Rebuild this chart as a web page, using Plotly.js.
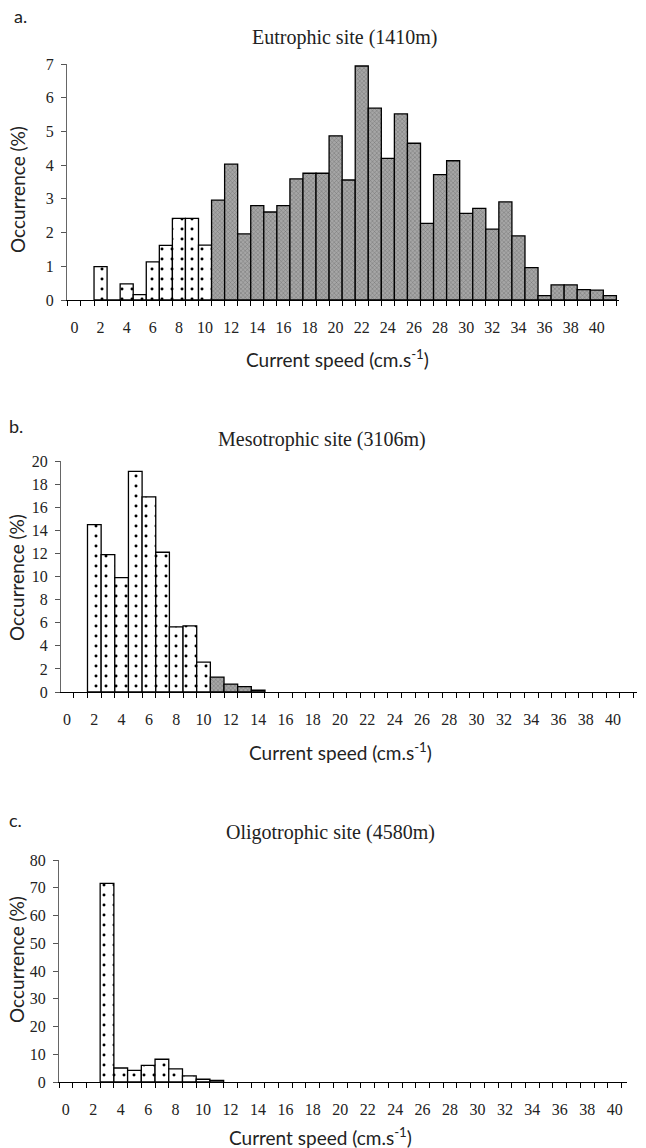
<!DOCTYPE html>
<html>
<head>
<meta charset="utf-8">
<script src="https://cdn.plot.ly/plotly-3.0.1.min.js"></script>
<style>html,body{margin:0;padding:0;background:#fff;}#chart{width:646px;height:1148px;}</style>
</head>
<body>
<div id="chart"></div>
<script>
// ---- Data (current speed in cm.s-1, occurrence in %) ----
const xTickVals = [0,2,4,6,8,10,12,14,16,18,20,22,24,26,28,30,32,34,36,38,40];

// a. Eutrophic site (1410m)
const aDotSpeed = [2,3,4,5,6,7,8,9,10];
const aDotOcc   = [0.99,0,0.48,0.16,1.13,1.62,2.42,2.42,1.63];
const aGraySpeed = [11,12,13,14,15,16,17,18,19,20,21,22,23,24,25,26,27,28,29,30,31,32,33,34,35,36,37,38,39,40,41];
const aGrayOcc   = [2.96,4.03,1.96,2.80,2.61,2.80,3.59,3.76,3.76,4.87,3.56,6.94,5.69,4.20,5.52,4.65,2.27,3.72,4.13,2.57,2.72,2.10,2.91,1.90,0.96,0.13,0.45,0.45,0.31,0.29,0.13];

// b. Mesotrophic site (3106m)
const bDotSpeed = [2,3,4,5,6,7,8,9,10];
const bDotOcc   = [14.5,11.9,9.9,19.1,16.9,12.1,5.64,5.73,2.59];
const bGraySpeed = [11,12,13,14];
const bGrayOcc   = [1.29,0.69,0.46,0.15];

// c. Oligotrophic site (4580m)
const cDotSpeed = [3,4,5,6,7,8,9,10];
const cDotOcc   = [71.6,5.05,4.2,6.0,8.2,4.7,2.2,1.0];
const cPlainSpeed = [11];
const cPlainOcc   = [0.6];

const W = 646, H = 1148;
const px = v => v / W;
const py = v => 1 - v / H;

const dotPattern = {shape: '.', bgcolor: '#ffffff', fgcolor: '#000000', size: 10, solidity: 0.07, fillmode: 'replace'};
const grayPattern = {shape: 'x', bgcolor: '#a6a6a6', fgcolor: '#6a6a6a', size: 3, solidity: 0.25, fillmode: 'replace'};
const outline = {color: '#000000', width: 1.3};

function bar(x, y, xa, ya, pattern, color) {
  return {type: 'bar', x: x, y: y, xaxis: xa, yaxis: ya, width: 1,
    marker: {color: color, line: outline, pattern: pattern}, hoverinfo: 'x+y', showlegend: false};
}

const data = [
  bar(aDotSpeed, aDotOcc, 'x', 'y', dotPattern, '#ffffff'),
  bar(aGraySpeed, aGrayOcc, 'x', 'y', grayPattern, '#8f8f8f'),
  bar(bDotSpeed, bDotOcc, 'x2', 'y2', dotPattern, '#ffffff'),
  bar(bGraySpeed, bGrayOcc, 'x2', 'y2', grayPattern, '#8f8f8f'),
  bar(cDotSpeed, cDotOcc, 'x3', 'y3', dotPattern, '#ffffff'),
  bar(cPlainSpeed, cPlainOcc, 'x3', 'y3', {}, '#ffffff')
];

const tickFont = {family: 'Liberation Serif, serif', size: 16, color: '#222'};

function xAxis(domain, range, anchor) {
  return {domain: domain, range: range, anchor: anchor,
    tickmode: 'array', tickvals: xTickVals, ticks: '', ticklen: 0,
    ticklabelstandoff: 12, tickfont: tickFont,
    minor: {tickmode: 'linear', tick0: 0.5, dtick: 1, ticks: 'outside', ticklen: 5, tickcolor: '#000', tickwidth: 1},
    showline: true, linecolor: '#000', linewidth: 1.3,
    showgrid: false, zeroline: false, fixedrange: true};
}
function yAxis(domain, range, dtick, anchor) {
  return {domain: domain, range: range, anchor: anchor, dtick: dtick, tick0: 0,
    ticks: 'outside', ticklen: 5, tickcolor: '#555', tickwidth: 1,
    tickfont: tickFont, ticklabelstandoff: 4,
    showline: true, linecolor: '#666', linewidth: 1,
    showgrid: false, zeroline: false, fixedrange: true};
}

const titleFont = {family: 'Liberation Serif, serif', size: 20, color: '#222'};
const axTitleFont = {family: 'Lato, sans-serif', size: 19, color: '#222'};
const letterFont = {family: 'Lato, sans-serif', size: 18, color: '#222'};

function ann(text, x, y, font, extra) {
  return Object.assign({text: text, x: px(x), y: py(y), xref: 'paper', yref: 'paper',
    showarrow: false, font: font, xanchor: 'center', yanchor: 'middle'}, extra || {});
}

const layout = {
  width: W, height: H,
  margin: {l: 0, r: 0, t: 0, b: 0},
  paper_bgcolor: '#ffffff', plot_bgcolor: 'rgba(0,0,0,0)',
  bargap: 0, showlegend: false,
  xaxis:  xAxis([px(67), px(619)], [-0.57, 41.7], 'y'),
  yaxis:  yAxis([py(300), py(64)], [0, 7], 1, 'x'),
  xaxis2: xAxis([px(61), px(637)], [-0.44, 41.75], 'y2'),
  yaxis2: yAxis([py(692), py(461)], [0, 20], 2, 'x2'),
  xaxis3: xAxis([px(59), px(627)], [-0.5, 40.9], 'y3'),
  yaxis3: yAxis([py(1082), py(860)], [0, 80], 10, 'x3'),
  annotations: [
    ann('a.', 20, 16, letterFont),
    ann('Eutrophic site (1410m)', 345, 38, titleFont),
    ann('Occurrence (%)', 18, 190, axTitleFont, {textangle: -90}),
    ann('Current speed (cm.s<sup>-1</sup>)', 337, 358, axTitleFont),

    ann('b.', 16, 426, letterFont),
    ann('Mesotrophic site (3106m)', 322, 440, titleFont),
    ann('Occurrence (%)', 16, 578, axTitleFont, {textangle: -90}),
    ann('Current speed (cm.s<sup>-1</sup>)', 340, 751, axTitleFont),

    ann('c.', 15, 820, letterFont),
    ann('Oligotrophic site (4580m)', 330, 832, titleFont),
    ann('Occurrence (%)', 16, 960, axTitleFont, {textangle: -90}),
    ann('Current speed (cm.s<sup>-1</sup>)', 320, 1136, axTitleFont)
  ]
};

Plotly.newPlot('chart', data, layout, {staticPlot: true, displayModeBar: false});
</script>
</body>
</html>
